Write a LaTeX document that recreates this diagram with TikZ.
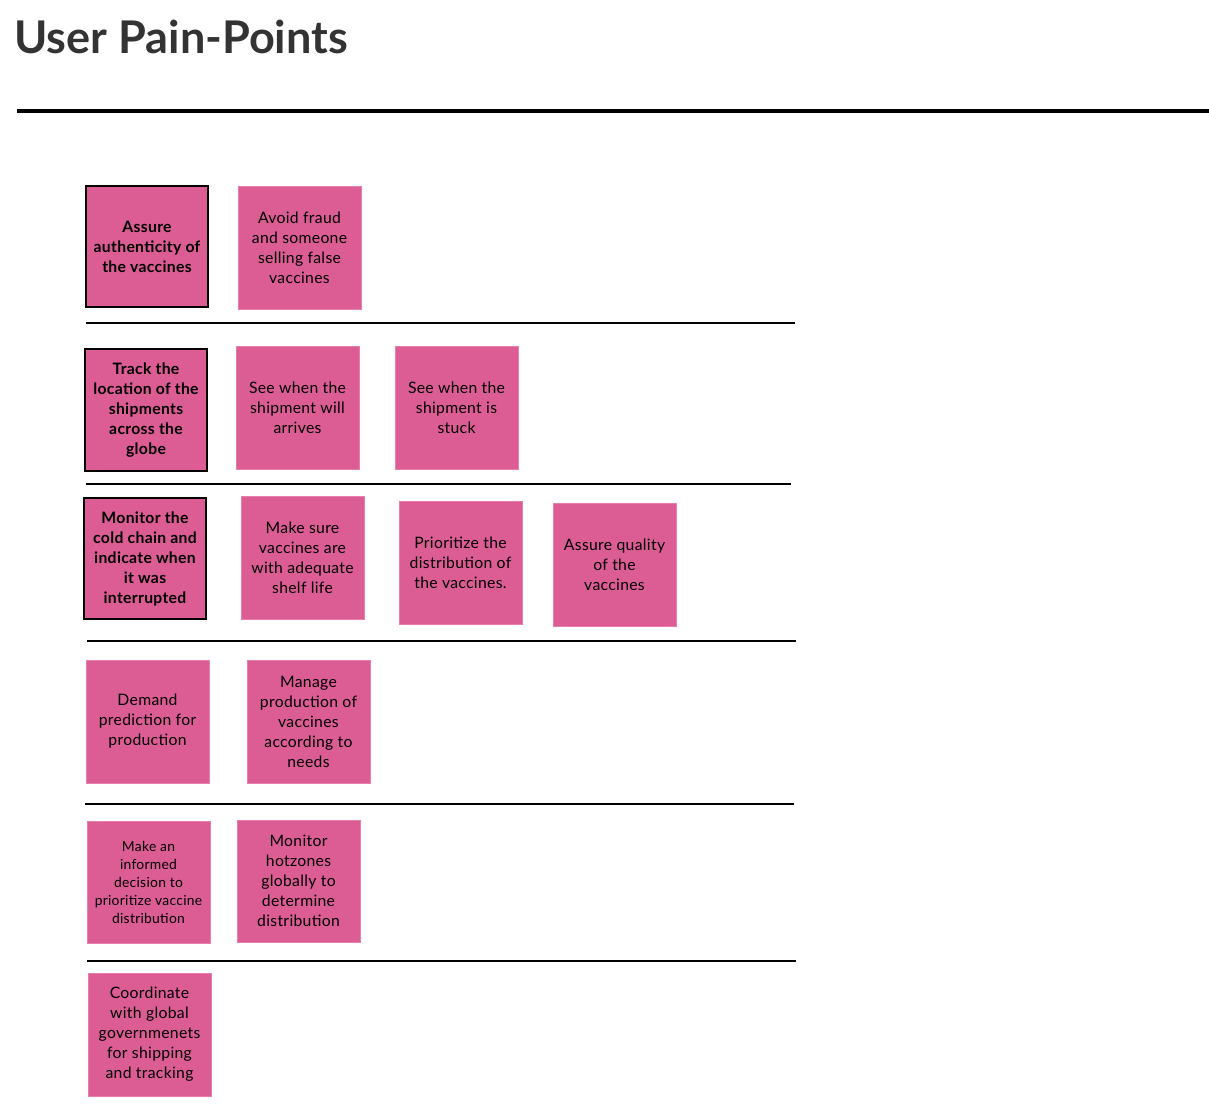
\documentclass[tikz,border=0pt]{standalone}
\usepackage{fontspec}
\setmainfont{Lato}[LetterSpace=2]
\newfontfamily\titlefont{Lato}
\definecolor{sticky}{HTML}{DC5C94}
\definecolor{stickyedge}{HTML}{E67FAB}
\definecolor{titlegray}{HTML}{333333}
\begin{document}
\begin{tikzpicture}[x=0.75pt,y=-0.75pt,
  note/.style={fill=sticky,draw=stickyedge,line width=0.6pt,inner sep=0pt,align=center,
    font=\fontsize{11.8}{15}\selectfont,text=black},
  keynote/.style={note,draw=black,line width=1.5pt,font=\fontsize{11.8}{15}\selectfont\bfseries},
  rowsep/.style={line width=1.6pt,black}]
\useasboundingbox (0,0) rectangle (1209,1114);
% title
\node[anchor=base west,inner sep=0pt,text=titlegray,font=\titlefont\fontsize{33.8}{38}\selectfont\bfseries] (title) at (14,53) {User Pain-Points};
\draw[line width=3pt] (17,111) -- (1209,111);
% row 1
\node[keynote,minimum width=91.5pt,minimum height=90.75pt] (a1) at (147,246.5) {Assure\\authenticity of\\the vaccines};
\node[note,minimum width=92.25pt,minimum height=92.25pt] (a2) at (299.5,247.5) {Avoid fraud\\and someone\\selling false\\vaccines};
\draw[rowsep] (86,323) -- (795,323);
% row 2
\node[keynote,minimum width=91.5pt,minimum height=91.5pt] (b1) at (146,410) {Track the\\location of the\\shipments\\across the\\globe};
\node[note,minimum width=92.25pt,minimum height=92.25pt] (b2) at (297.5,407.5) {See when the\\shipment will\\arrives};
\node[note,minimum width=92.25pt,minimum height=92.25pt] (b3) at (456.5,407.5) {See when the\\shipment is\\stuck};
\draw[rowsep] (86,484) -- (791,484);
% row 3
\node[keynote,minimum width=91.5pt,minimum height=90.75pt] (c1) at (145,558.5) {Monitor the\\cold chain and\\indicate when\\it was\\interrupted};
\node[note,minimum width=92.25pt,minimum height=92.25pt] (c2) at (302.5,557.5) {Make sure\\vaccines are\\with adequate\\shelf life};
\node[note,minimum width=92.25pt,minimum height=92.25pt] (c3) at (460.5,562.5) {Prioritize the\\distribution of\\the vaccines.};
\node[note,minimum width=92.25pt,minimum height=92.25pt] (c4) at (614.5,564.5) {Assure quality\\of the\\vaccines};
\draw[rowsep] (87,641) -- (796,641);
% row 4
\node[note,minimum width=92.25pt,minimum height=92.25pt] (d1) at (147.5,721.5) {Demand\\prediction for\\production};
\node[note,minimum width=92.25pt,minimum height=92.25pt] (d2) at (308.5,722) {Manage\\production of\\vaccines\\according to\\needs};
\draw[rowsep] (85,804) -- (794,804);
% row 5
\node[note,minimum width=92.25pt,minimum height=91.5pt,font=\fontsize{10.4}{13.5}\selectfont] (e1) at (148.5,882) {Make an\\informed\\decision to\\prioritize vaccine\\distribution};
\node[note,minimum width=92.25pt,minimum height=91.5pt] (e2) at (298.5,881) {Monitor\\hotzones\\globally to\\determine\\distribution};
\draw[rowsep] (87,961) -- (796,961);
% row 6
\node[note,minimum width=92.25pt,minimum height=92.25pt] (f1) at (149.5,1034.5) {Coordinate\\with global\\governmenets\\for shipping\\and tracking};
\end{tikzpicture}
\end{document}
